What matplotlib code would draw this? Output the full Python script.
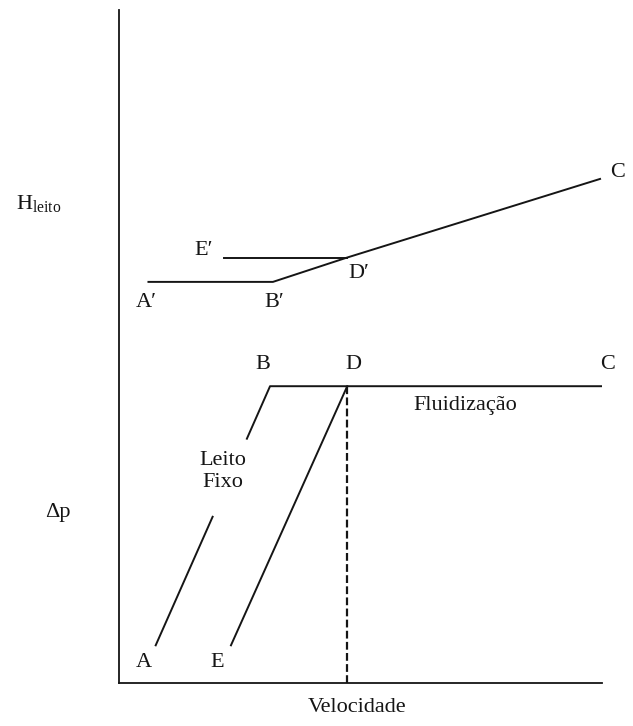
import numpy as np
import matplotlib.pyplot as plt

plt.rcParams['font.family'] = ['Liberation Serif', 'DejaVu Serif']
plt.rcParams['mathtext.fontset'] = 'custom'
plt.rcParams['mathtext.rm'] = 'Liberation Serif'

# bed height curve (upper): A' -> B' -> D' -> C, and E' -> D' on return
h_x = [6.0, 31.8, 47.1, 99.6]
h_y = [59.6, 59.6, 63.2, 74.9]
h_ret_x = [21.7, 47.1]
h_ret_y = [63.2, 63.2]

# pressure drop curve (lower): A -> B -> C (broken where the "Leito Fixo" label sits),
# and E -> D on return
dp_x = [7.5, 19.3, np.nan, 26.4, 31.2, 100.0]
dp_y = [5.6, 24.7, np.nan, 36.3, 44.1, 44.1]
dp_ret_x = [23.1, 47.2]
dp_ret_y = [5.6, 44.1]
umf = 47.2  # minimum fluidization velocity (dashed line)
dp_max = 44.1

# point labels: (text, x, y)
point_labels = [
    ("C", 103.3, 75.9), ("E\u2032", 17.5, 64.3), ("D\u2032", 49.7, 60.8),
    ("A\u2032", 5.5, 56.6), ("B\u2032", 32.0, 56.6),
    ("B", 29.6, 47.3), ("D", 48.5, 47.3), ("C", 101.1, 47.3),
    ("A", 5.0, 3.0), ("E", 20.2, 3.0),
]

fig = plt.figure(figsize=(6.33, 7.26), dpi=100)
ax = fig.add_axes([119.5 / 633, 43 / 726, (602 - 119.5) / 633, (683 - 10) / 726])
ax.set_xlim(0, 100)
ax.set_ylim(0, 100)

ink = '#151515'
lw = 1.4

ax.plot(h_x, h_y, color=ink, lw=lw)
ax.plot(h_ret_x, h_ret_y, color=ink, lw=lw)
ax.plot(dp_x, dp_y, color=ink, lw=lw)
ax.plot(dp_ret_x, dp_ret_y, color=ink, lw=lw)
ax.plot([umf, umf], [0, dp_max], color=ink, lw=1.6, linestyle=(0, (3.5, 1.5)))

fs = 16
for txt, x, y in point_labels:
    ax.text(x, y, txt, fontsize=fs, ha='center', va='center', color=ink,
            clip_on=False)

ax.text(21.5, 31.4, "Leito\nFixo", fontsize=fs, ha='center', va='center',
        color=ink, linespacing=1.2)
ax.text(71.6, 41.3, "Fluidização", fontsize=fs, ha='center', va='center',
        color=ink)

ax.text(-16.8, 71.3, r"$\mathrm{H_{leito}}$", fontsize=fs, ha='center',
        va='center', color=ink, clip_on=False)
ax.text(-12.8, 25.3, "\u0394p", fontsize=fs, ha='center', va='center',
        color=ink, clip_on=False)
ax.text(49.3, -3.6, "Velocidade", fontsize=fs, ha='center', va='center',
        color=ink, clip_on=False)

for side in ['top', 'right']:
    ax.spines[side].set_visible(False)
for side in ['left', 'bottom']:
    ax.spines[side].set_linewidth(1.3)
    ax.spines[side].set_color(ink)
ax.set_xticks([])
ax.set_yticks([])

fig.savefig("out.png", dpi=100)
